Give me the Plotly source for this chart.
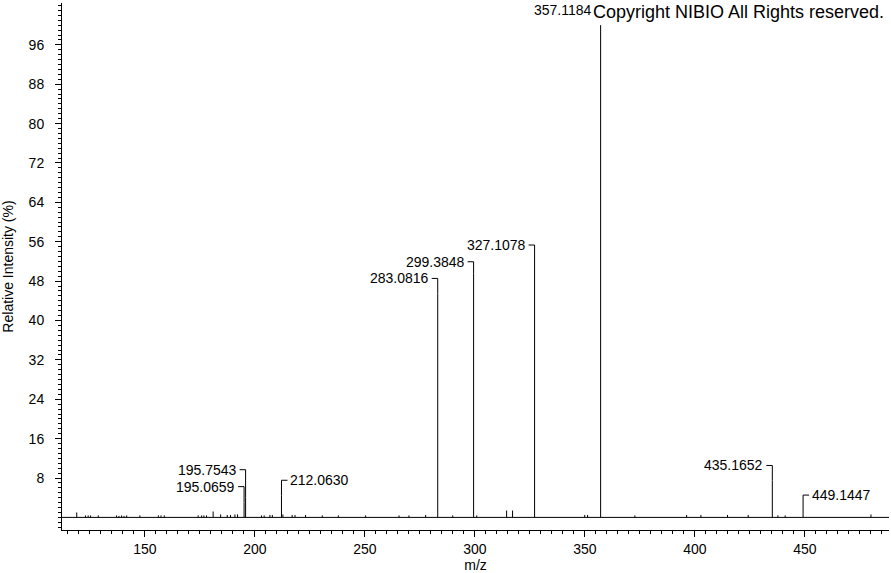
import plotly.graph_objects as go

# Labelled peaks
label_mz = [195.0659, 195.7543, 212.0630, 283.0816, 299.3848, 327.1078, 357.1184, 435.1652, 449.1447]
label_int = [3.0, 4.0, 4.5, 45.5, 49.5, 53.3, 100.0, 7.5, 2.5]
label_text = ["195.0659", "195.7543", "212.0630", "283.0816", "299.3848", "327.1078", "357.1184", "435.1652", "449.1447"]

# Minor, unlabelled peaks
minor_mz = [119.0, 123.0, 124.2, 125.3, 128.8, 137.1, 138.2, 139.4, 140.5, 141.7, 147.7,
            156.1, 157.3, 158.8, 174.2, 175.8, 176.8, 178.0, 181.0, 184.4, 187.4, 188.9,
            190.9, 192.1, 203.0, 204.2, 206.8, 207.9, 212.7, 216.9, 218.2, 223.0, 230.6,
            237.9, 250.3, 265.5, 270.0, 277.6, 289.9, 300.8, 314.4, 317.1, 349.9, 351.2,
            372.7, 396.2, 402.7, 414.8, 424.2, 437.7, 441.0, 480.0]
minor_int = [1.0, 0.4, 0.4, 0.4, 0.4, 0.4, 0.3, 0.4, 0.3, 0.4, 0.4,
             0.4, 0.4, 0.4, 0.4, 0.4, 0.4, 0.4, 1.2, 0.6, 0.5, 0.5,
             0.6, 0.6, 0.4, 0.4, 0.5, 0.5, 0.6, 0.5, 0.5, 0.5, 0.4,
             0.4, 0.4, 0.4, 0.4, 0.5, 0.4, 0.4, 1.4, 1.4, 0.5, 0.5,
             0.4, 0.5, 0.5, 0.5, 0.5, 0.4, 0.4, 0.6]

y_ticks = [8, 16, 24, 32, 40, 48, 56, 64, 72, 80, 88, 96]

# label styling: side and vertical pixel offset of the label elbow
label_side = ["left", "left", "right", "left", "left", "left", "none", "left", "right"]
label_off = [16, 28, 15, 15, 12, 10, 15, 15, 10]

FONT = "Liberation Sans, Arial, sans-serif"

all_mz = minor_mz + label_mz
all_int = minor_int + label_int
xs, ys = [], []
for m, v in zip(all_mz, all_int):
    xs += [m, m, None]
    ys += [0, v, None]

fig = go.Figure()
fig.add_trace(go.Scatter(x=xs, y=ys, mode="lines", line=dict(color="black", width=1),
                         hoverinfo="skip", showlegend=False))

shapes = []
annotations = []
# baseline at 0
shapes.append(dict(type="line", xref="paper", yref="y", x0=0, x1=1, y0=0, y1=0,
                   line=dict(color="black", width=1)))
for m, v, t, side, off in zip(label_mz, label_int, label_text, label_side, label_off):
    if side == "none":
        annotations.append(dict(x=m, y=v, xref="x", yref="y", text=t, showarrow=False,
                                xanchor="right", yanchor="middle", xshift=-7, yshift=off,
                                font=dict(family=FONT, size=14, color="black")))
        continue
    shapes.append(dict(type="line", xref="x", yref="y", ysizemode="pixel", yanchor=v,
                       x0=m, x1=m, y0=0, y1=off, line=dict(color="black", width=1)))
    sgn = -1 if side == "left" else 1
    shapes.append(dict(type="line", xref="x", yref="y", xsizemode="pixel", xanchor=m,
                       ysizemode="pixel", yanchor=v, x0=0, x1=sgn * 6, y0=off, y1=off,
                       line=dict(color="black", width=1)))
    annotations.append(dict(x=m, y=v, xref="x", yref="y", text=t, showarrow=False,
                            xanchor="right" if side == "left" else "left", yanchor="middle",
                            xshift=sgn * 7, yshift=off,
                            font=dict(family=FONT, size=14, color="black")))

annotations.append(dict(x=0.996, y=0.983, xref="paper", yref="paper",
                        text="Copyright NIBIO All Rights reserved.", showarrow=False,
                        xanchor="right", yanchor="middle",
                        font=dict(family=FONT, size=18, color="black")))

fig.update_layout(
    width=891, height=573,
    margin=dict(l=62, r=2, t=3, b=43, autoexpand=False),
    plot_bgcolor="white", paper_bgcolor="white",
    shapes=shapes, annotations=annotations,
    font=dict(family=FONT, size=14, color="black"),
    xaxis=dict(range=[112.3, 488.2], tick0=0, dtick=50, ticks="outside", ticklen=6,
               tickcolor="black", showline=True, linecolor="black", linewidth=1,
               showgrid=False, zeroline=False, automargin=False,
               minor=dict(dtick=5, ticks="outside", ticklen=3, tickcolor="black", showgrid=False),
               tickfont=dict(family=FONT, size=14, color="black"),
               title=dict(text="m/z", standoff=0, font=dict(family=FONT, size=14, color="black"))),
    yaxis=dict(range=[-2.56, 104.5], tickvals=y_ticks, ticks="outside", ticklen=6,
               tickcolor="black", showline=True, linecolor="black", linewidth=1,
               showgrid=False, zeroline=False, ticklabelstandoff=8, automargin=False,
               minor=dict(dtick=1, tick0=0, ticks="outside", ticklen=3, tickcolor="black", showgrid=False),
               tickfont=dict(family=FONT, size=14, color="black"),
               title=dict(text="Relative Intensity (%)", standoff=12,
                          font=dict(family=FONT, size=14, color="black"))),
)

fig.write_html("out.html", config={"displayModeBar": False},
               post_script="document.body.style.margin='0';document.body.style.overflow='hidden';")
